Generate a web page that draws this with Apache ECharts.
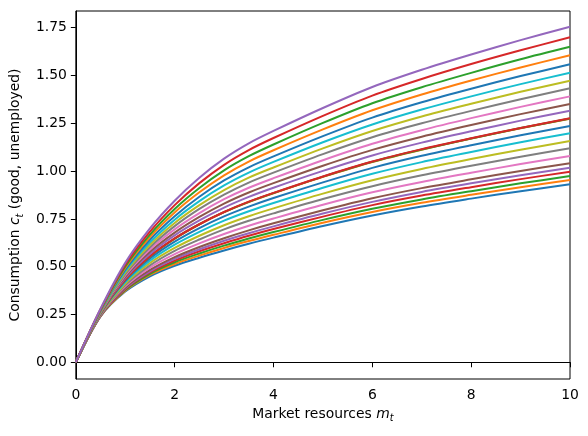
<!DOCTYPE html>
<html>
<head>
<meta charset="utf-8">
<script src="https://cdn.jsdelivr.net/npm/echarts@6/dist/echarts.min.js"></script>
<style>
  html, body { margin: 0; padding: 0; background: #fff; }
  #chart { width: 588px; height: 436px; }
</style>
</head>
<body>
<div id="chart"></div>
<script>
// Market resources grid (x values)
const mValues = [0, 0.5, 1, 1.5, 2, 2.5, 3, 3.5, 4, 5, 6, 7, 8, 9, 10];

// Consumption curves (bottom curve first)
const c01 = [0, 0.240, 0.370, 0.450, 0.505, 0.547, 0.585, 0.620, 0.652, 0.713, 0.768, 0.815, 0.856, 0.895, 0.931];
const c02 = [0, 0.241, 0.374, 0.457, 0.514, 0.558, 0.598, 0.634, 0.667, 0.730, 0.786, 0.834, 0.876, 0.916, 0.953];
const c03 = [0, 0.242, 0.378, 0.463, 0.523, 0.569, 0.610, 0.647, 0.681, 0.745, 0.803, 0.852, 0.895, 0.936, 0.974];
const c04 = [0, 0.243, 0.382, 0.470, 0.532, 0.581, 0.623, 0.662, 0.697, 0.762, 0.822, 0.872, 0.916, 0.958, 0.997];
const c05 = [0, 0.244, 0.386, 0.476, 0.541, 0.591, 0.636, 0.675, 0.711, 0.778, 0.839, 0.891, 0.936, 0.978, 1.018];
const c06 = [0, 0.245, 0.390, 0.483, 0.550, 0.603, 0.649, 0.690, 0.727, 0.795, 0.858, 0.911, 0.957, 1.001, 1.041];
const c07 = [0, 0.247, 0.397, 0.495, 0.566, 0.622, 0.671, 0.714, 0.752, 0.824, 0.889, 0.943, 0.991, 1.037, 1.079];
const c08 = [0, 0.249, 0.404, 0.507, 0.583, 0.642, 0.695, 0.740, 0.779, 0.854, 0.921, 0.978, 1.028, 1.075, 1.119];
const c09 = [0, 0.251, 0.411, 0.519, 0.598, 0.662, 0.717, 0.764, 0.805, 0.882, 0.952, 1.011, 1.063, 1.112, 1.157];
const c10 = [0, 0.253, 0.419, 0.531, 0.615, 0.682, 0.741, 0.790, 0.833, 0.913, 0.986, 1.047, 1.100, 1.151, 1.198];
const c11 = [0, 0.255, 0.426, 0.543, 0.631, 0.702, 0.763, 0.814, 0.859, 0.941, 1.017, 1.080, 1.135, 1.187, 1.236];
const c12 = [0, 0.257, 0.432, 0.554, 0.646, 0.721, 0.785, 0.838, 0.884, 0.970, 1.048, 1.112, 1.170, 1.224, 1.274];
const c13 = [0, 0.257, 0.433, 0.554, 0.647, 0.722, 0.785, 0.839, 0.885, 0.971, 1.049, 1.113, 1.171, 1.225, 1.275];
const c14 = [0, 0.257, 0.433, 0.555, 0.648, 0.722, 0.786, 0.840, 0.886, 0.972, 1.050, 1.115, 1.172, 1.226, 1.276];
const c15 = [0, 0.259, 0.440, 0.567, 0.664, 0.742, 0.809, 0.865, 0.913, 1.001, 1.082, 1.149, 1.208, 1.264, 1.316];
const c16 = [0, 0.260, 0.447, 0.578, 0.678, 0.760, 0.830, 0.888, 0.937, 1.028, 1.111, 1.180, 1.241, 1.298, 1.351];
const c17 = [0, 0.262, 0.454, 0.590, 0.695, 0.780, 0.853, 0.913, 0.963, 1.057, 1.143, 1.214, 1.277, 1.336, 1.391];
const c18 = [0, 0.264, 0.461, 0.602, 0.712, 0.802, 0.877, 0.940, 0.992, 1.089, 1.177, 1.250, 1.315, 1.376, 1.433];
const c19 = [0, 0.266, 0.469, 0.615, 0.729, 0.822, 0.901, 0.966, 1.019, 1.119, 1.210, 1.286, 1.352, 1.415, 1.473];
const c20 = [0, 0.268, 0.476, 0.627, 0.746, 0.843, 0.925, 0.992, 1.048, 1.151, 1.244, 1.322, 1.391, 1.455, 1.515];
const c21 = [0, 0.271, 0.484, 0.641, 0.764, 0.866, 0.951, 1.020, 1.077, 1.183, 1.280, 1.360, 1.431, 1.497, 1.559];
const c22 = [0, 0.273, 0.493, 0.655, 0.784, 0.889, 0.978, 1.050, 1.109, 1.218, 1.318, 1.401, 1.474, 1.542, 1.606];
const c23 = [0, 0.275, 0.501, 0.668, 0.802, 0.912, 1.004, 1.078, 1.139, 1.252, 1.355, 1.439, 1.514, 1.585, 1.650];
const c24 = [0, 0.277, 0.510, 0.683, 0.822, 0.937, 1.033, 1.110, 1.173, 1.289, 1.395, 1.482, 1.560, 1.632, 1.700];
const c25 = [0, 0.280, 0.520, 0.700, 0.845, 0.965, 1.065, 1.145, 1.210, 1.330, 1.440, 1.530, 1.610, 1.685, 1.755];

const curves = [c01, c02, c03, c04, c05, c06, c07, c08, c09, c10, c11, c12, c13,
                c14, c15, c16, c17, c18, c19, c20, c21, c22, c23, c24, c25];

// Tick labels
const xTicks = [0, 2, 4, 6, 8, 10];
const yTicks = [0, 0.25, 0.5, 0.75, 1.0, 1.25, 1.5, 1.75];

const palette = ['#1f77b4', '#ff7f0e', '#2ca02c', '#d62728', '#9467bd',
                 '#8c564b', '#e377c2', '#7f7f7f', '#bcbd22', '#17becf'];

const FONT = 'DejaVu Sans';
const FS = 13.9;

const chart = echarts.init(document.getElementById('chart'), null, { renderer: 'canvas' });

const series = curves.map((ys, i) => ({
  type: 'line',
  data: mValues.map((m, j) => [m, ys[j]]),
  showSymbol: false,
  smooth: 0.3,
  lineStyle: { width: 2, color: palette[i % 10] },
  itemStyle: { color: palette[i % 10] },
  animation: false,
  z: 2
}));

const richLabel = {
  n: { fontFamily: FONT, fontSize: FS, color: '#000', lineHeight: 20, verticalAlign: 'middle' },
  i: { fontFamily: FONT, fontSize: FS, fontStyle: 'italic', color: '#000', lineHeight: 20, verticalAlign: 'middle' },
  s: { fontFamily: FONT, fontSize: 9.7, fontStyle: 'italic', color: '#000', lineHeight: 10, verticalAlign: 'bottom' }
};

chart.setOption({
  animation: false,
  backgroundColor: '#fff',
  grid: {
    left: 74, right: 18, top: 11, bottom: 57,
    show: true, borderColor: '#000', borderWidth: 1, backgroundColor: 'transparent'
  },
  xAxis: {
    type: 'value',
    min: 0, max: 10, interval: 2,
    name: '{n|Market resources }{i|m}{s|t}',
    nameLocation: 'middle',
    nameGap: 14,
    nameTextStyle: { rich: richLabel },
    axisLine: { show: true, lineStyle: { color: '#000', width: 1 } },
    axisTick: { show: true, inside: false, length: 5, lineStyle: { color: '#000', width: 1 } },
    axisLabel: {
      fontFamily: FONT, fontSize: FS, color: '#000', margin: 9,
      customValues: xTicks,
      formatter: v => String(v)
    },
    splitLine: { show: false }
  },
  yAxis: {
    type: 'value',
    min: -0.0875, max: 1.8375,
    name: '{n|Consumption }{i|c}{s|t}{n| (good, unemployed)}',
    nameLocation: 'middle',
    nameGap: 40,
    nameRotate: 90,
    nameTextStyle: { rich: richLabel },
    axisLine: { show: true, lineStyle: { color: '#000', width: 1 } },
    axisTick: { show: true, inside: false, length: 5, customValues: yTicks, lineStyle: { color: '#000', width: 1 } },
    axisLabel: {
      fontFamily: FONT, fontSize: FS, color: '#000', margin: 9,
      customValues: yTicks,
      formatter: v => v.toFixed(2)
    },
    splitLine: { show: false }
  },
  series: series
});
</script>
</body>
</html>
